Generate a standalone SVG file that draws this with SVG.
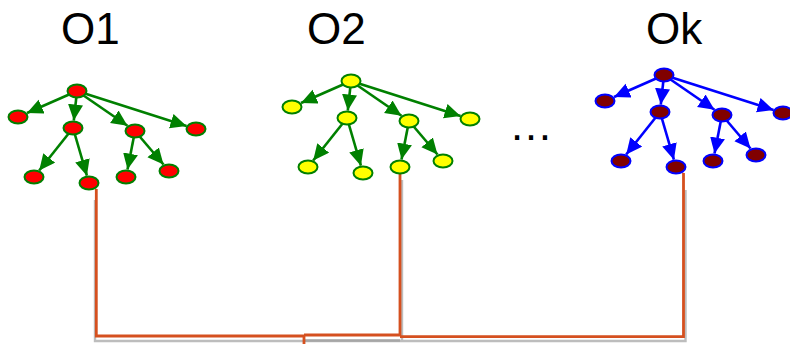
<svg xmlns="http://www.w3.org/2000/svg" width="790" height="344" viewBox="0 0 790 344">
  <defs>
    <marker id="head-green" markerUnits="userSpaceOnUse" markerWidth="18" markerHeight="16" refX="16" refY="7.5" orient="auto">
      <path d="M0,0 L16,7.5 L0,15 z" fill="#008000"/>
    </marker>
    <marker id="head-blue" markerUnits="userSpaceOnUse" markerWidth="18" markerHeight="16" refX="16" refY="7.5" orient="auto">
      <path d="M0,0 L16,7.5 L0,15 z" fill="#0000ff"/>
    </marker>
  </defs>
  <style>
    .title { font-family: "Liberation Sans", Arial, sans-serif; font-size: 44px; fill: #000; }
    .edge-g { stroke: #008000; stroke-width: 2.6; fill: none; marker-end: url(#head-green); }
    .edge-b { stroke: #0000ff; stroke-width: 2.6; fill: none; marker-end: url(#head-blue); }
    .n-red ellipse { fill: #ff0000; stroke: #008000; stroke-width: 2; }
    .n-yel ellipse { fill: #ffff00; stroke: #008000; stroke-width: 2; }
    .n-brn ellipse { fill: #800000; stroke: #0000ff; stroke-width: 2; }
    .link { stroke: #d5501f; stroke-width: 2.8; fill: none; }
    .shadow { stroke: #bdbdbd; stroke-width: 2.4; fill: none; }
  </style>

  <rect width="790" height="344" fill="#ffffff"/>

  <!-- titles -->
  <text class="title" x="61" y="44">O1</text>
  <text class="title" x="307" y="44">O2</text>
  <text class="title" x="646" y="44">Ok</text>
  <text class="title" x="509" y="140">…</text>

  <!-- cluster links joining the trees -->
  <g id="links">
    <path class="shadow" d="M95,200 V341 H685.5 V190"/>
    <path d="M304,340.5 H400" stroke="#a6a6a6" stroke-width="2.4" fill="none"/>
    <path class="shadow" d="M402,180 V340"/>
    <path class="link" d="M96.3,189 V336 H304 V344"/>
    <path class="link" d="M400,174 V335 H304"/>
    <path class="link" d="M683.5,173 V336.7 H400"/>
  </g>

  <!-- tree O1 -->
  <g id="tree-o1" transform="translate(77,91)">
    <g id="o1-connectors">
      <line class="edge-g" x1="0" y1="0" x2="-50" y2="22"/>
      <line class="edge-g" x1="0" y1="0" x2="-3.2" y2="29.5"/>
      <line class="edge-g" x1="0" y1="0" x2="50.5" y2="34.8"/>
      <line class="edge-g" x1="0" y1="0" x2="109.5" y2="35"/>
      <line class="edge-g" x1="-4" y1="37" x2="-37.8" y2="79.5"/>
      <line class="edge-g" x1="-4" y1="37" x2="9.9" y2="84.7"/>
      <line class="edge-g" x1="58" y1="40" x2="50.5" y2="78.6"/>
      <line class="edge-g" x1="58" y1="40" x2="86.5" y2="73.5"/>
    </g>
    <g id="o1-root" class="n-red"><ellipse cx="0" cy="0" rx="9.5" ry="6.5"/></g>
    <g id="o1-c1" class="n-red"><ellipse cx="-59" cy="26" rx="9.5" ry="6.5"/></g>
    <g id="o1-c2" class="n-red"><ellipse cx="-4" cy="37" rx="9.5" ry="6.5"/></g>
    <g id="o1-c3" class="n-red"><ellipse cx="58" cy="40" rx="9.5" ry="6.5"/></g>
    <g id="o1-c4" class="n-red"><ellipse cx="119" cy="38" rx="9.5" ry="6.5"/></g>
    <g id="o1-g1" class="n-red"><ellipse cx="-43" cy="86" rx="9.5" ry="6.5"/></g>
    <g id="o1-g2" class="n-red"><ellipse cx="12" cy="92" rx="9.5" ry="6.5"/></g>
    <g id="o1-g3" class="n-red"><ellipse cx="49" cy="86" rx="9.5" ry="6.5"/></g>
    <g id="o1-g4" class="n-red"><ellipse cx="92" cy="80" rx="9.5" ry="6.5"/></g>
  </g>

  <!-- tree O2 -->
  <g id="tree-o2" transform="translate(351,81)">
    <g id="o2-connectors">
      <line class="edge-g" x1="0" y1="0" x2="-50" y2="22"/>
      <line class="edge-g" x1="0" y1="0" x2="-3.2" y2="29.5"/>
      <line class="edge-g" x1="0" y1="0" x2="50.5" y2="34.8"/>
      <line class="edge-g" x1="0" y1="0" x2="109.5" y2="35"/>
      <line class="edge-g" x1="-4" y1="37" x2="-37.8" y2="79.5"/>
      <line class="edge-g" x1="-4" y1="37" x2="9.9" y2="84.7"/>
      <line class="edge-g" x1="58" y1="40" x2="50.5" y2="78.6"/>
      <line class="edge-g" x1="58" y1="40" x2="86.5" y2="73.5"/>
    </g>
    <g id="o2-root" class="n-yel"><ellipse cx="0" cy="0" rx="9.5" ry="6.5"/></g>
    <g id="o2-c1" class="n-yel"><ellipse cx="-59" cy="26" rx="9.5" ry="6.5"/></g>
    <g id="o2-c2" class="n-yel"><ellipse cx="-4" cy="37" rx="9.5" ry="6.5"/></g>
    <g id="o2-c3" class="n-yel"><ellipse cx="58" cy="40" rx="9.5" ry="6.5"/></g>
    <g id="o2-c4" class="n-yel"><ellipse cx="119" cy="38" rx="9.5" ry="6.5"/></g>
    <g id="o2-g1" class="n-yel"><ellipse cx="-43" cy="86" rx="9.5" ry="6.5"/></g>
    <g id="o2-g2" class="n-yel"><ellipse cx="12" cy="92" rx="9.5" ry="6.5"/></g>
    <g id="o2-g3" class="n-yel"><ellipse cx="49" cy="86" rx="9.5" ry="6.5"/></g>
    <g id="o2-g4" class="n-yel"><ellipse cx="92" cy="80" rx="9.5" ry="6.5"/></g>
  </g>

  <!-- tree Ok -->
  <g id="tree-ok" transform="translate(664,75)">
    <g id="ok-connectors">
      <line class="edge-b" x1="0" y1="0" x2="-50" y2="22"/>
      <line class="edge-b" x1="0" y1="0" x2="-3.2" y2="29.5"/>
      <line class="edge-b" x1="0" y1="0" x2="50.5" y2="34.8"/>
      <line class="edge-b" x1="0" y1="0" x2="109.5" y2="35"/>
      <line class="edge-b" x1="-4" y1="37" x2="-37.8" y2="79.5"/>
      <line class="edge-b" x1="-4" y1="37" x2="9.9" y2="84.7"/>
      <line class="edge-b" x1="58" y1="40" x2="50.5" y2="78.6"/>
      <line class="edge-b" x1="58" y1="40" x2="86.5" y2="73.5"/>
    </g>
    <g id="ok-root" class="n-brn"><ellipse cx="0" cy="0" rx="9.5" ry="6.5"/></g>
    <g id="ok-c1" class="n-brn"><ellipse cx="-59" cy="26" rx="9.5" ry="6.5"/></g>
    <g id="ok-c2" class="n-brn"><ellipse cx="-4" cy="37" rx="9.5" ry="6.5"/></g>
    <g id="ok-c3" class="n-brn"><ellipse cx="58" cy="40" rx="9.5" ry="6.5"/></g>
    <g id="ok-c4" class="n-brn"><ellipse cx="119" cy="38" rx="9.5" ry="6.5"/></g>
    <g id="ok-g1" class="n-brn"><ellipse cx="-43" cy="86" rx="9.5" ry="6.5"/></g>
    <g id="ok-g2" class="n-brn"><ellipse cx="12" cy="92" rx="9.5" ry="6.5"/></g>
    <g id="ok-g3" class="n-brn"><ellipse cx="49" cy="86" rx="9.5" ry="6.5"/></g>
    <g id="ok-g4" class="n-brn"><ellipse cx="92" cy="80" rx="9.5" ry="6.5"/></g>
  </g>
</svg>
